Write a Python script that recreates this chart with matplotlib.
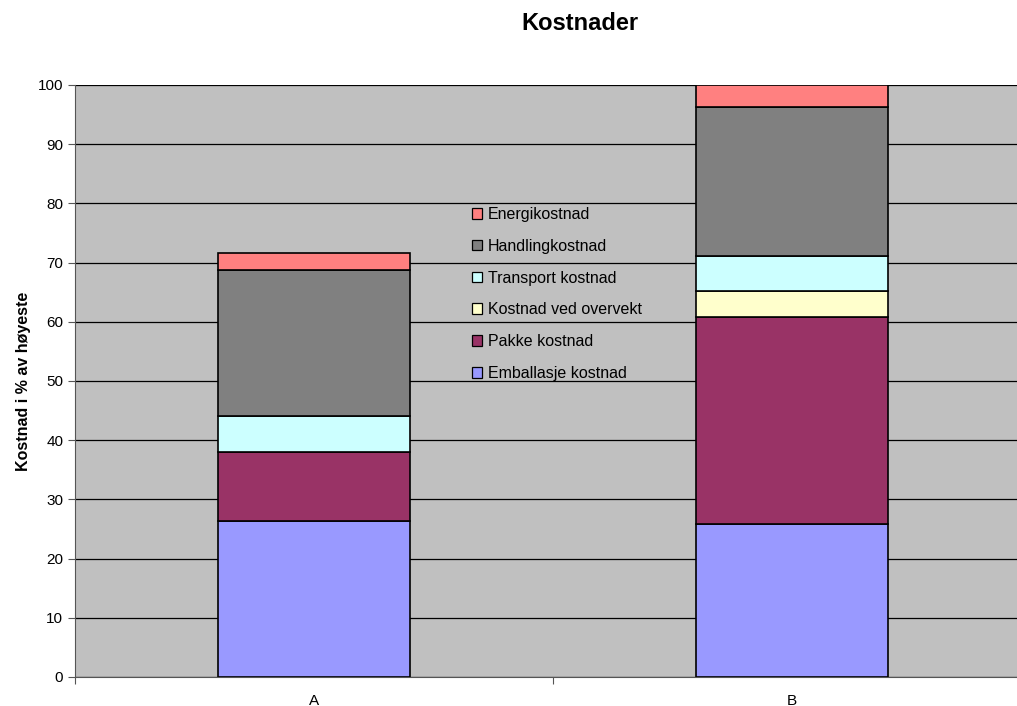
import matplotlib
matplotlib.use("Agg")
import matplotlib.pyplot as plt
import numpy as np
from matplotlib.patches import Patch

plt.rcParams['font.family'] = ['Liberation Sans', 'DejaVu Sans']

categories = ["A", "B"]
series_names = ["Emballasje kostnad", "Pakke kostnad", "Kostnad ved overvekt",
                "Transport kostnad", "Handlingkostnad", "Energikostnad"]
emballasje = [26.3, 25.8]
pakke = [11.7, 35.0]
overvekt = [0.0, 4.4]
transport = [6.1, 5.9]
handling = [24.6, 25.2]
energi = [2.9, 3.7]
colors = ["#9999FF", "#993366", "#FFFFCC", "#CCFFFF", "#808080", "#FF8080"]
yticks = list(range(0, 101, 10))

series = [emballasje, pakke, overvekt, transport, handling, energi]

W, H = 1017, 706
fig = plt.figure(figsize=(W / 100, H / 100), dpi=100)
ax = fig.add_axes([75 / W, 1 - 677 / H, (1031 - 75) / W, (677 - 85) / H])
ax.set_facecolor("#C0C0C0")

x = np.arange(len(categories))
bottom = np.zeros(len(categories))
for vals, col in zip(series, colors):
    v = np.array(vals)
    mask = v > 0
    ax.bar(x[mask], v[mask], 0.4, bottom=bottom[mask], color=col,
           edgecolor="black", linewidth=1.2, zorder=3)
    bottom += v

ax.set_xlim(-0.5, 1.5)
ax.set_ylim(0, 100)
ax.set_yticks(yticks)
ax.yaxis.grid(True, color="black", linewidth=0.9, zorder=0)
ax.set_axisbelow(True)

ax.set_xticks([-0.5, 0.5, 1.5])
ax.set_xticklabels([])
ax.set_xticks(x, minor=True)
ax.set_xticklabels(categories, minor=True)
ax.tick_params(axis="x", which="minor", length=0, pad=12, labelsize=11)
ax.tick_params(axis="x", which="major", length=5, color="#555555")
ax.tick_params(axis="y", length=5, labelsize=11, color="#555555")

for side in ["top", "right"]:
    ax.spines[side].set_visible(False)
ax.spines["left"].set_color("#555555")
ax.spines["bottom"].set_color("#555555")

ax.set_ylabel("Kostnad i % av høyeste", fontsize=11.5, fontweight="bold", labelpad=5)

fig.text(580 / W, 1 - 23 / H, "Kostnader", ha="center", va="center",
         fontsize=17, fontweight="bold")

handles = [Patch(facecolor=c, edgecolor="black", linewidth=0.9, label=n)
           for n, c in zip(series_names, colors)][::-1]
leg = ax.legend(handles=handles, loc="upper left",
                bbox_to_anchor=((464 - 75) / (1031 - 75), (677 - 199) / (677 - 85)),
                frameon=False, fontsize=11.5, handlelength=0.65, handleheight=0.65,
                handletextpad=0.35, labelspacing=1.05, borderpad=0)

fig.savefig("out.png", dpi=100)
